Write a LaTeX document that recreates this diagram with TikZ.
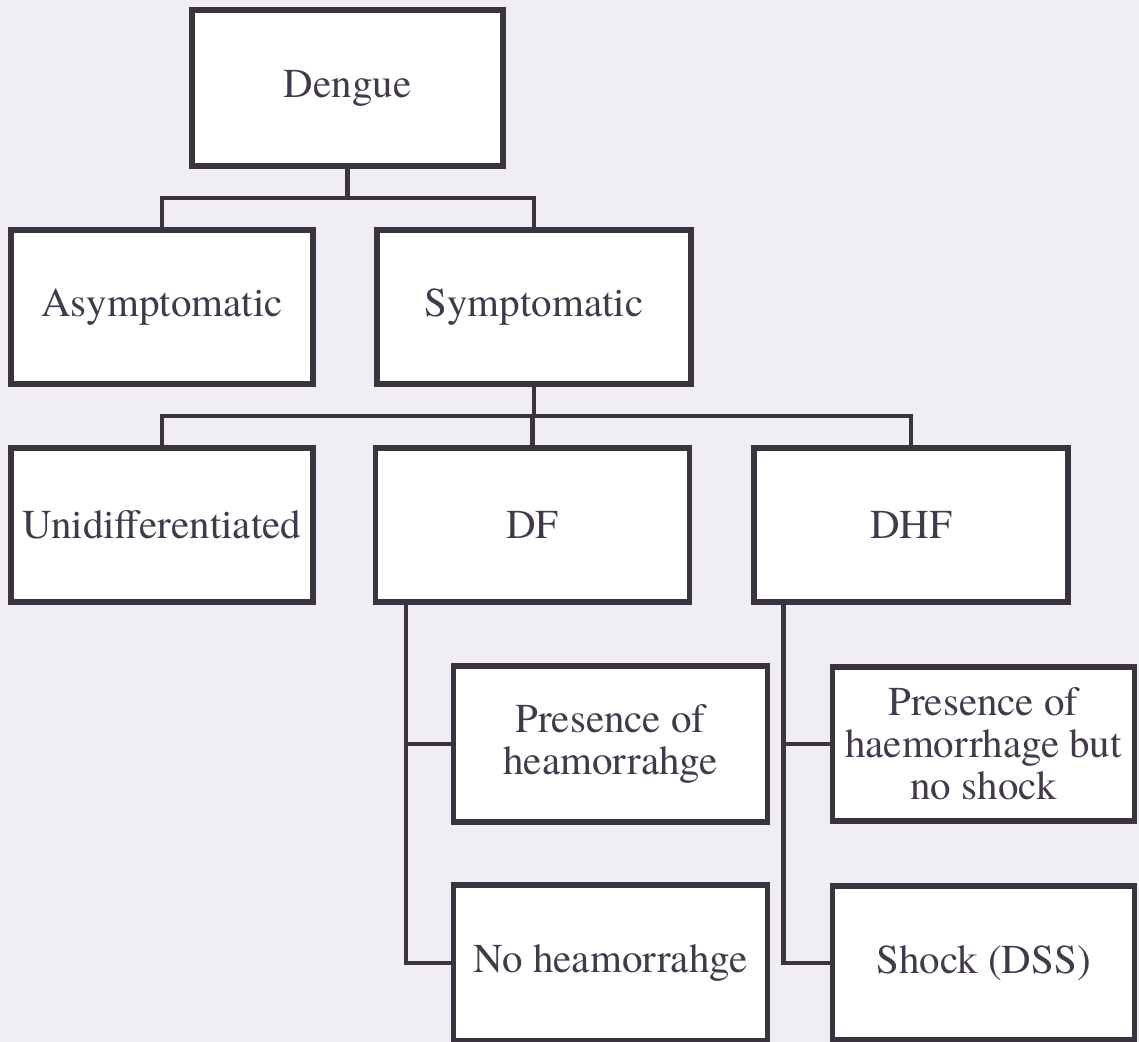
\documentclass[tikz,border=0pt]{standalone}
\usepackage{fontspec}
\setmainfont{texgyretermes}[Extension=.otf, UprightFont=*-regular, BoldFont=*-bold, ItalicFont=*-italic, BoldItalicFont=*-bolditalic]
\usetikzlibrary{calc}
\definecolor{inkgray}{RGB}{58,52,62}
\definecolor{textgray}{RGB}{66,58,74}
\definecolor{paper}{RGB}{240,238,244}
\tikzset{
  box/.style={draw=inkgray, line width=2.6pt, fill=white, text=textgray,
    align=center, inner sep=0pt, minimum height=77pt,
    font=\fontsize{20.5}{21}\selectfont},
  narrowbox/.style={box, minimum width=151pt},
  widebox/.style={box, minimum width=157pt},
  link/.style={draw=inkgray, line width=2.2pt}
}

\begin{document}
\begin{tikzpicture}[x=0.5pt,y=-0.5pt]
    \fill [paper] (0,0) rectangle (1139,1042);
    \useasboundingbox (0,0) rectangle (1139,1042);

    \coordinate (C0) at (347.5,88);
    \coordinate (C1) at (162,307);
    \coordinate (C2) at (534,307);
    \coordinate (C3) at (162,525);
    \coordinate (C4) at (532.5,525);
    \coordinate (C5) at (911,525);
    \coordinate (C6) at (610.5,744);
    \coordinate (C7) at (610.5,963);
    \coordinate (C8) at (983.5,744);
    \coordinate (C9) at (983.5,963);

    \coordinate (J1) at (347.5,198);
    \coordinate (J2) at (534,416);

    \node [widebox, minimum width=155.5pt, minimum height=78pt] (dengue) at (C0) {Dengue};
    \node [narrowbox] (asym) at (C1) {Asymptomatic};
    \node [widebox] (sym) at (C2) {Symptomatic};
    \node [narrowbox] (undiff) at (C3) {Unidifferentiated};
    \node [widebox] (df) at (C4) {DF};
    \node [widebox] (dhf) at (C5) {DHF};
    \node [widebox, minimum height=78pt] (preshm) at (C6) {Presence of\\heamorrahge};
    \node [widebox, minimum height=78pt] (nohm) at (C7) {No heamorrahge};
    \node [narrowbox] (presnoshock) at (C8) {Presence of\\haemorrhage but\\no shock};
    \node [narrowbox] (shock) at (C9) {Shock (DSS)};

    \coordinate (S1) at ($(df.south west)+(33,0)$);
    \coordinate (S2) at ($(dhf.south west)+(32,0)$);

    \draw [link] (dengue.south) -- (J1);
    \draw [link] (J1) -| (asym.north);
    \draw [link] (J1) -| (sym.north);
    \draw [link] (sym.south) -- (J2);
    \draw [link] (J2) -| (undiff.north);
    \draw [link] (J2) -| (df.north);
    \draw [link] (J2) -| (dhf.north);
    \draw [link] (S1) |- (nohm.west);
    \draw [link] (S1 |- preshm.west) -- (preshm.west);
    \draw [link] (S2) |- (shock.west);
    \draw [link] (S2 |- presnoshock.west) -- (presnoshock.west);
\end{tikzpicture}
\end{document}
